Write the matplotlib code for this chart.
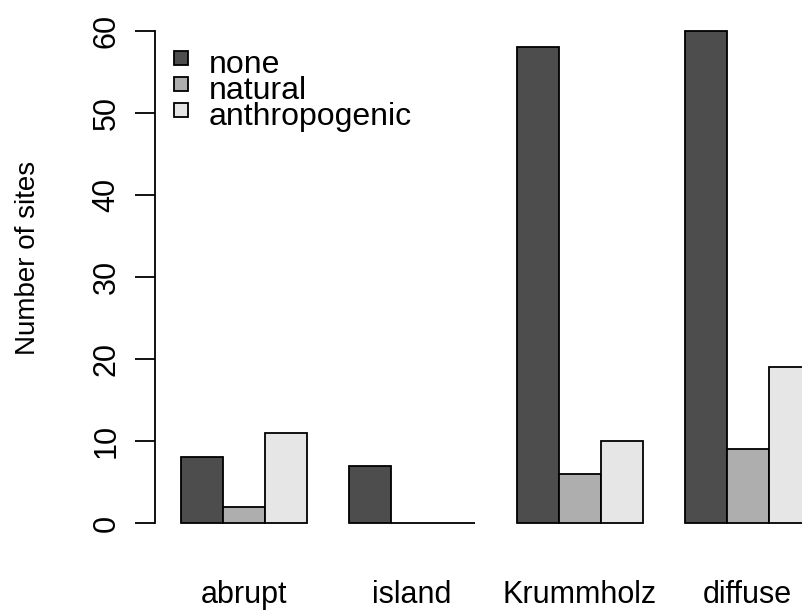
import matplotlib
matplotlib.use("Agg")
import matplotlib.pyplot as plt
from matplotlib.patches import Rectangle
import numpy as np

# ---- data ----
groups = ["abrupt", "island", "Krummholz", "diffuse"]
series = ["none", "natural", "anthropogenic"]
none_vals = [8, 7, 58, 60]
natural_vals = [2, 0, 6, 9]
anthro_vals = [11, 0, 10, 19]
colors = ["#4D4D4D", "#AEAEAE", "#E6E6E6"]
yticks = [0, 10, 20, 30, 40, 50, 60]
ylabel = "Number of sites"

plt.rcParams["font.family"] = ["Liberation Sans", "DejaVu Sans"]
FS = 23
W, H = 803, 610
fig = plt.figure(figsize=(W / 100, H / 100), dpi=100)

# axes placement (pixels)
unit = 42.0
left_px = 180.7 - 0.6 * unit
ppu = (523 - 30.7) / 60.0
bot_px = 523 + 2.4 * ppu
top_px = 30.7 - 2.4 * ppu
ax = fig.add_axes([left_px / W, (H - bot_px) / H, 16.2 * unit / W, (bot_px - top_px) / H])
ax.set_xlim(0.4, 16.6)
ax.set_ylim(-2.4, 62.4)

vals = [none_vals, natural_vals, anthro_vals]
centers = np.array([4 * g + 2.5 for g in range(len(groups))])
lw = 1.3
for i, (v, c) in enumerate(zip(vals, colors)):
    ax.bar(centers + (i - 1), v, width=1.0, color=c, edgecolor="black", linewidth=lw,
           align="center", clip_on=False, zorder=3)

for s in ["top", "right", "bottom"]:
    ax.spines[s].set_visible(False)
ax.spines["left"].set_bounds(0, 60)
ax.spines["left"].set_linewidth(lw)

ax.set_yticks(yticks)
ax.set_yticklabels([str(t) for t in yticks], rotation=90, va="center", fontsize=22)
ax.tick_params(axis="y", direction="out", length=14.4, width=lw, pad=10)

ax.set_xticks(centers)
ax.set_xticklabels(groups, fontsize=22)
ax.tick_params(axis="x", length=0, pad=27)

# y label
fig.text(28 / W, (H - 258) / H, ylabel, fontsize=20, rotation=90,
         ha="center", va="center")

# legend (manual, R style, no box)
sq = 14
sq_x = 174.5
sq_cy = [58, 84, 110]
for lab, c, cy in zip(series, colors, sq_cy):
    fig.patches.append(Rectangle((sq_x / W, (H - cy - sq / 2) / H), sq / W, sq / H,
                                 transform=fig.transFigure, facecolor=c,
                                 edgecolor="black", linewidth=lw))
    fig.text(209 / W, (H - (cy + 15)) / H, lab, fontsize=FS, ha="left", va="baseline")

fig.savefig("out.png", dpi=100)
